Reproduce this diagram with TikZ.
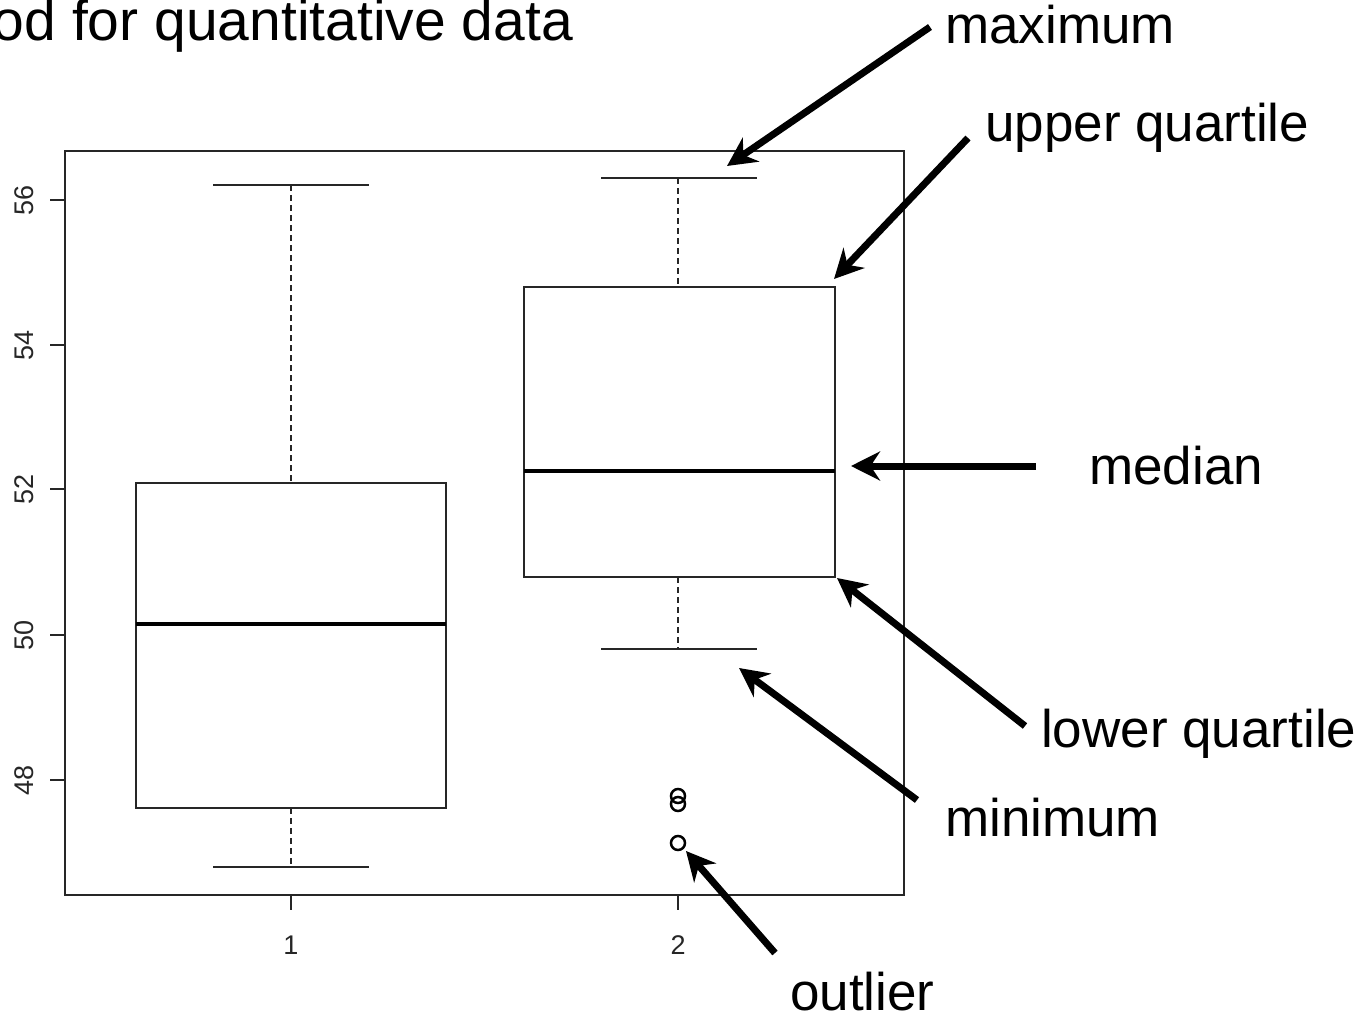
\documentclass[tikz,border=0pt]{standalone}
\usepackage{fontspec}
\setmainfont{Liberation Sans}
\usetikzlibrary{arrows.meta}
\begin{document}
\begin{tikzpicture}[x=1pt,y=-1pt,
  lbl/.style={font=\fontsize{53}{60}\selectfont, inner sep=0pt, anchor=base west},
  ticklbl/.style={font=\fontsize{27}{30}\selectfont, inner sep=0pt, text=black!85},
  frameline/.style={line width=1.8pt, draw=black!85},
  boxline/.style={line width=1.5pt, draw=black!85},
  whisk/.style={line width=1.3pt, draw=black!85, dash pattern=on 6pt off 4pt},
  med/.style={line width=4pt},
  outl/.style={line width=2.5pt},
  callout/.style={line width=7pt, -{Stealth[length=29pt,width=29pt]}},
  ]
\useasboundingbox (0,0) rectangle (1370,1016);

% title
\node[font=\fontsize{57}{64}\selectfont, inner sep=0pt, anchor=base east] (title) at (573,41) {od for quantitative data};

% plot frame
\draw[frameline] (65,151) rectangle (904,895);

% y ticks
\foreach \v/\yy in {56/200,54/345,52/489,50/635,48/780}{
  \draw[boxline] (50,\yy) -- (65,\yy);
  \node[ticklbl, rotate=90] (yt\v) at (24,\yy) {\v};
}
% x ticks
\foreach \v/\xx in {1/291,2/678}{
  \draw[boxline] (\xx,895) -- (\xx,910);
  \node[ticklbl] (xt\v) at (\xx,945) {\v};
}

% box 1
\draw[whisk] (291,185) -- (291,483);
\draw[whisk] (291,808) -- (291,867);
\draw[boxline] (213,185) -- (369,185);
\draw[boxline] (213,867) -- (369,867);
\draw[boxline] (136,483) rectangle (446,808);
\draw[med] (136,624) -- (446,624);

% box 2
\draw[whisk] (678,178) -- (678,287);
\draw[whisk] (678,577) -- (678,649);
\draw[boxline] (601,178) -- (757,178);
\draw[boxline] (601,649) -- (757,649);
\draw[boxline] (524,287) rectangle (835,577);
\draw[med] (524,471) -- (835,471);

% outliers
\draw[outl] (678,796) circle (7);
\draw[outl] (678,804) circle (7);
\draw[outl] (678,843) circle (7);

% labels
\node[lbl] (lmax) at (945,44) {maximum};
\node[lbl] (luq) at (985,142) {upper quartile};
\node[lbl] (lmed) at (1089,484) {median};
\node[lbl] (llq) at (1041,747) {lower quartile};
\node[lbl] (lmin) at (945,836) {minimum};
\node[lbl] (lout) at (790,1010) {outlier};

% arrow end points
\coordinate (amaxT) at (930,27);   \coordinate (amaxH) at (727,166);
\coordinate (auqT) at (968,138);   \coordinate (auqH) at (834,279);
\coordinate (amedT) at (1036,466); \coordinate (amedH) at (851,466);
\coordinate (alqT) at (1025,726);  \coordinate (alqH) at (837,578);
\coordinate (aminT) at (917,800);  \coordinate (aminH) at (739,668);
\coordinate (aoutT) at (775,953);  \coordinate (aoutH) at (686,851);

\draw[callout] (amaxT) -- (amaxH);
\draw[callout] (auqT) -- (auqH);
\draw[callout] (amedT) -- (amedH);
\draw[callout] (alqT) -- (alqH);
\draw[callout] (aminT) -- (aminH);
\draw[callout] (aoutT) -- (aoutH);
\end{tikzpicture}
\end{document}
